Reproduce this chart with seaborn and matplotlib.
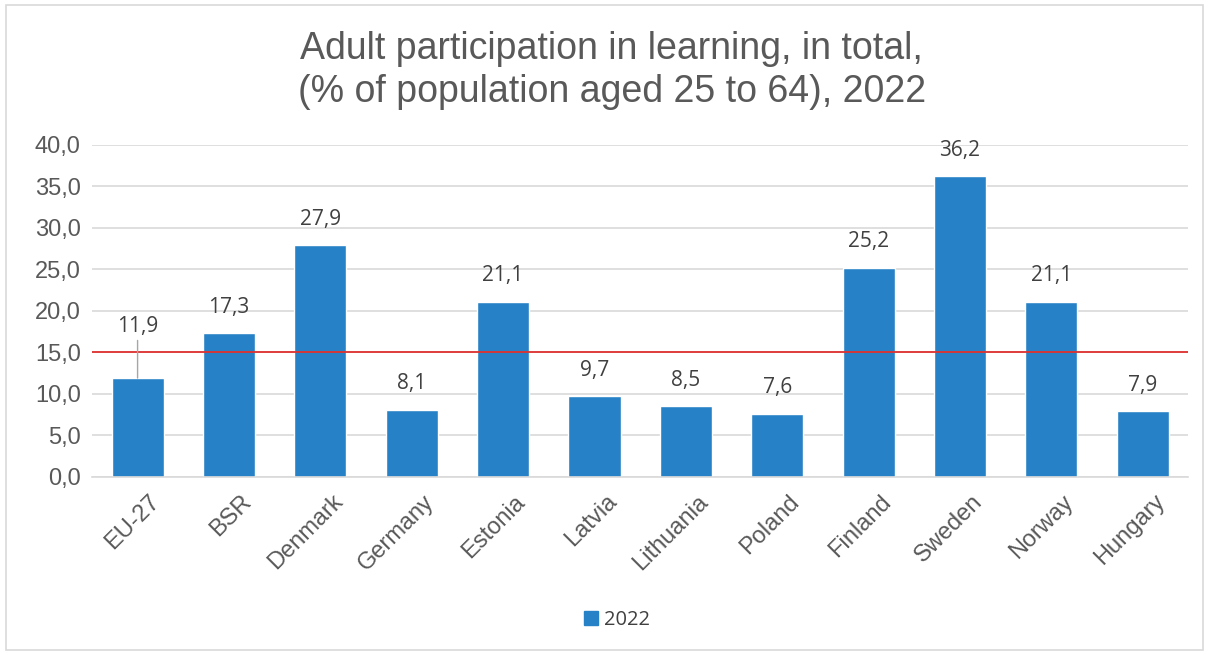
import matplotlib
matplotlib.use("Agg")
import matplotlib.pyplot as plt
import matplotlib.transforms as mtransforms
from matplotlib.patches import Rectangle
import seaborn as sns
import pandas as pd

countries = ["EU-27", "BSR", "Denmark", "Germany", "Estonia", "Latvia",
             "Lithuania", "Poland", "Finland", "Sweden", "Norway", "Hungary"]
values_2022 = [11.9, 17.3, 27.9, 8.1, 21.1, 9.7, 8.5, 7.6, 25.2, 36.2, 21.1, 7.9]
target = 15.0
series_name = "2022"

df = pd.DataFrame({"country": countries, "value": values_2022, "year": series_name})

sns.set_style("white")
plt.rcParams["font.family"] = ["Liberation Sans", "DejaVu Sans"]

blue = "#2781c6"
grey_text = "#595959"

fig = plt.figure(figsize=(12.09, 6.55), dpi=100)
ax = fig.add_axes([0.076, 0.272, 0.907, 0.507])

sns.barplot(data=df, x="country", y="value", hue="year", palette=[blue],
            width=0.57, ax=ax, legend=False, saturation=1)

ax.set_ylim(0, 40)
ax.set_yticks(range(0, 41, 5))
ax.set_yticklabels([f"{t:.1f}".replace(".", ",") for t in range(0, 41, 5)],
                   fontsize=17, color=grey_text)
ax.set_xticks(range(len(countries)))
ax.set_xticklabels(countries, rotation=45, ha="right", rotation_mode="anchor",
                   fontsize=17, color=grey_text)
ax.tick_params(axis="both", length=0, pad=8)
ax.tick_params(axis="x", pad=10)
# nudge rotated labels a bit to the right, like Excel does
shift = mtransforms.ScaledTranslation(8 / 72, 0, fig.dpi_scale_trans)
for lbl in ax.get_xticklabels():
    lbl.set_transform(lbl.get_transform() + shift)
ax.set_xlabel("")
ax.set_ylabel("")
ax.grid(axis="y", color="#d9d9d9", linewidth=1.2)
ax.set_axisbelow(True)
for s in ["top", "right", "left"]:
    ax.spines[s].set_visible(False)
ax.spines["bottom"].set_color("#d9d9d9")
ax.spines["bottom"].set_linewidth(1.2)
ax.set_xlim(-0.5, len(countries) - 0.5)

# target line at 15 %
ax.axhline(target, color="#e0312f", linewidth=1.3, zorder=3)

# data labels
for i, v in enumerate(values_2022):
    lab = f"{v:.1f}".replace(".", ",")
    if i == 0:
        ax.annotate(lab, xy=(i, v), xytext=(0, 37), textcoords="offset points",
                    ha="center", va="center", fontsize=15, color="#404040",
                    family=["Open Sans", "DejaVu Sans"],
                    arrowprops=dict(arrowstyle="-", color="#a6a6a6", lw=1,
                                    shrinkA=0, shrinkB=0))
    else:
        ax.annotate(lab, xy=(i, v), xytext=(0, 11), textcoords="offset points",
                    ha="center", va="bottom", fontsize=15, color="#404040",
                    family=["Open Sans", "DejaVu Sans"])

fig.suptitle("Adult participation in learning, in total,\n(% of population aged 25 to 64), 2022",
             x=0.506, y=0.952, fontsize=27, color=grey_text, linespacing=1.25)

handle = Rectangle((0, 0), 1, 1, color=blue)
fig.legend([handle], [series_name], loc="center", bbox_to_anchor=(0.51, 0.053),
           frameon=False, handlelength=0.7, handleheight=0.7, handletextpad=0.3,
           prop={"family": ["Open Sans", "DejaVu Sans"], "size": 14.5},
           labelcolor="#404040")

# chart area border
fig.patches.append(Rectangle((0.005, 0.008), 0.99, 0.985, transform=fig.transFigure,
                             fill=False, edgecolor="#d9d9d9", linewidth=1.2))

fig.savefig("out.png", dpi=100)
